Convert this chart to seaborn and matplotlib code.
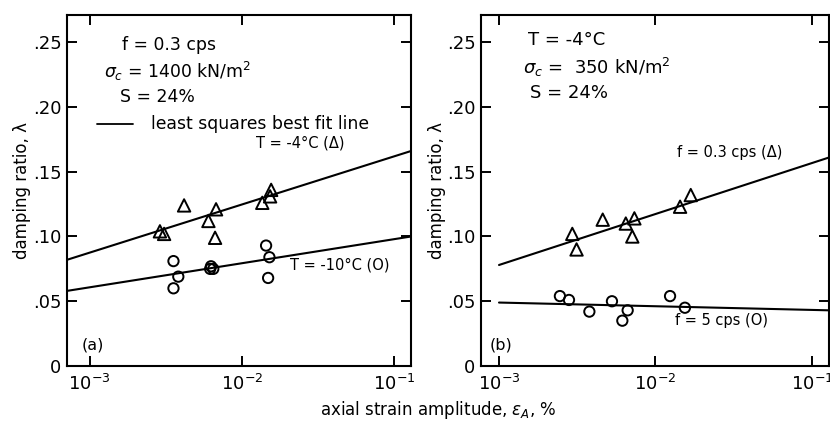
import numpy as np
import pandas as pd
import matplotlib
matplotlib.use("Agg")
import matplotlib.pyplot as plt
from matplotlib.ticker import FixedLocator, FixedFormatter, NullLocator
import seaborn as sns

sns.set_style("ticks")
plt.rcParams["font.family"] = ["DejaVu Sans"]
plt.rcParams.update({"text.color": "black", "axes.labelcolor": "black",
                     "xtick.color": "black", "ytick.color": "black",
                     "axes.edgecolor": "black"})

# ---------------- data ----------------
# panel (a): f = 0.3 cps, sigma_c = 1400 kN/m2
a_tri_x = [2.90e-3, 3.09e-3, 4.18e-3, 6.04e-3, 6.78e-3, 6.68e-3, 0.01364, 0.01535, 0.0156]
a_tri_y = [0.104, 0.102, 0.124, 0.112, 0.121, 0.099, 0.126, 0.131, 0.136]
a_cir_x = [3.56e-3, 3.83e-3, 3.56e-3, 6.28e-3, 6.20e-3, 6.50e-3, 0.01445, 0.0152, 0.0149]
a_cir_y = [0.081, 0.069, 0.060, 0.077, 0.075, 0.075, 0.093, 0.084, 0.068]
a_fit_x = [7.11e-4, 0.1294]
a_fit_hi = [0.082, 0.166]
a_fit_lo = [0.058, 0.100]

# panel (b): T = -4 C, sigma_c = 350 kN/m2
b_tri_x = [2.94e-3, 3.13e-3, 4.60e-3, 6.46e-3, 7.33e-3, 7.11e-3, 0.01436, 0.0168]
b_tri_y = [0.102, 0.090, 0.113, 0.110, 0.114, 0.100, 0.123, 0.132]
b_cir_x = [2.45e-3, 2.80e-3, 3.78e-3, 5.27e-3, 6.64e-3, 6.14e-3, 0.01239, 0.01542]
b_cir_y = [0.054, 0.051, 0.042, 0.050, 0.043, 0.035, 0.054, 0.045]
b_fit_x = [1.0e-3, 0.1285]
b_fit_hi = [0.078, 0.161]
b_fit_lo = [0.049, 0.043]

xticks = [1e-3, 1e-2, 1e-1]
xtick_labels = [r"$10^{-3}$", r"$10^{-2}$", r"$10^{-1}$"]
yticks = [0, 0.05, 0.10, 0.15, 0.20, 0.25]
ytick_labels = ["0", ".05", ".10", ".15", ".20", ".25"]

# ---------------- figure ----------------
fig = plt.figure(figsize=(8.3, 4.33), dpi=100)
axA = fig.add_axes([0.0807, 0.1547, 0.4145, 0.8106])
axB = fig.add_axes([0.5795, 0.1547, 0.4193, 0.8106])

tri_kw = dict(marker="^", s=80, facecolor="none", edgecolor="black", linewidth=1.4, legend=False)
cir_kw = dict(marker="o", s=55, facecolor="none", edgecolor="black", linewidth=1.4, legend=False)
line_kw = dict(color="black", linewidth=1.5, legend=False)


def panel(ax, tx, ty, cx, cy, fx, fhi, flo, xlim):
    sns.lineplot(data=pd.DataFrame({"x": fx, "y": fhi}), x="x", y="y", ax=ax, **line_kw)
    sns.lineplot(data=pd.DataFrame({"x": fx, "y": flo}), x="x", y="y", ax=ax, **line_kw)
    sns.scatterplot(data=pd.DataFrame({"x": tx, "y": ty}), x="x", y="y", ax=ax, **tri_kw)
    sns.scatterplot(data=pd.DataFrame({"x": cx, "y": cy}), x="x", y="y", ax=ax, **cir_kw)
    ax.set_xscale("log")
    ax.set_xlim(*xlim)
    ax.set_ylim(0, 0.271)
    ax.xaxis.set_major_locator(FixedLocator(xticks))
    ax.xaxis.set_major_formatter(FixedFormatter(xtick_labels))
    ax.xaxis.set_minor_locator(NullLocator())
    ax.yaxis.set_major_locator(FixedLocator(yticks))
    ax.yaxis.set_major_formatter(FixedFormatter(ytick_labels))
    ax.tick_params(direction="in", length=7, width=1.4, top=True, right=True,
                   labelsize=13, pad=4)
    ax.tick_params(axis="x", pad=6)
    for sp in ax.spines.values():
        sp.set_linewidth(1.5)
        sp.set_visible(True)
    ax.set_xlabel("")
    ax.set_ylabel("damping ratio, λ", fontsize=12)


panel(axA, a_tri_x, a_tri_y, a_cir_x, a_cir_y, a_fit_x, a_fit_hi, a_fit_lo, (7.11e-4, 0.1294))
panel(axB, b_tri_x, b_tri_y, b_cir_x, b_cir_y, b_fit_x, b_fit_hi, b_fit_lo, (7.67e-4, 0.1285))
axA.yaxis.set_label_coords(-0.105, 0.5)
axB.yaxis.set_label_coords(-0.10, 0.5)

fs = 12.4
tA = axA.transAxes
axA.text(0.160, 0.915, "f = 0.3 cps", transform=tA, fontsize=fs, va="center")
axA.text(0.108, 0.838, r"$\sigma_c$ = 1400 kN/m$^2$", transform=tA, fontsize=fs, va="center")
axA.text(0.154, 0.766, "S = 24%", transform=tA, fontsize=fs, va="center")
axA.plot([0.087, 0.192], [0.689, 0.689], transform=tA, color="black", linewidth=1.3)
axA.text(0.244, 0.689, "least squares best fit line", transform=tA, fontsize=fs, va="center")
axA.text(0.548, 0.635, "T = -4°C (Δ)", transform=tA, fontsize=10.5, va="center")
axA.text(0.648, 0.288, "T = -10°C (O)", transform=tA, fontsize=10.5, va="center")
axA.text(0.044, 0.06, "(a)", transform=tA, fontsize=11.5, va="center")

tB = axB.transAxes
axB.text(0.135, 0.929, "T = -4°C", transform=tB, fontsize=13, va="center")
axB.text(0.121, 0.852, r"$\sigma_c$ =  350 kN/m$^2$", transform=tB, fontsize=13, va="center")
axB.text(0.141, 0.778, "S = 24%", transform=tB, fontsize=13, va="center")
axB.text(0.563, 0.607, "f = 0.3 cps (Δ)", transform=tB, fontsize=10.5, va="center")
axB.text(0.557, 0.131, "f = 5 cps (O)", transform=tB, fontsize=10.5, va="center")
axB.text(0.026, 0.06, "(b)", transform=tB, fontsize=11.5, va="center")

fig.text(0.528, 0.053, r"axial strain amplitude, $\epsilon_A$, %", fontsize=12,
         ha="center", va="center")

fig.savefig("out.png", dpi=100)
